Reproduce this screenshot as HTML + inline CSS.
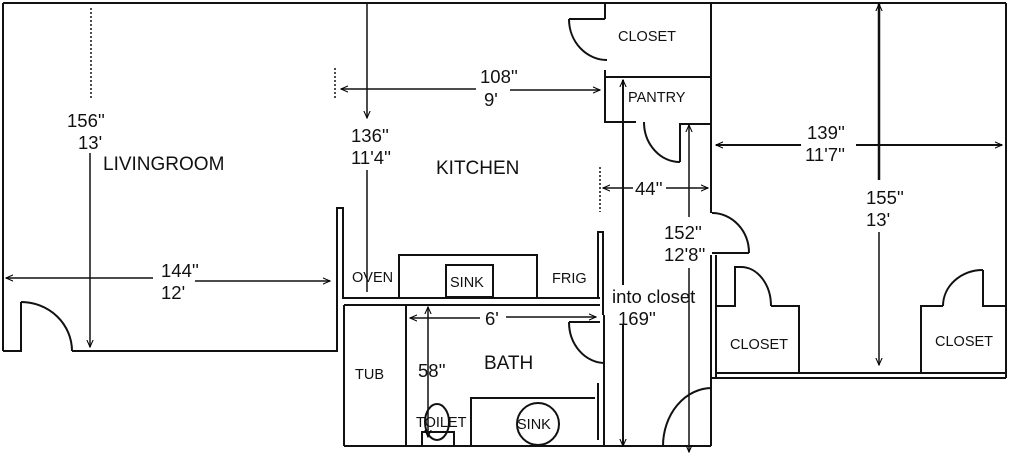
<!DOCTYPE html>
<html><head><meta charset="utf-8"><style>
html,body{margin:0;padding:0;background:#fff;}
svg{display:block;}
text{font-family:"Liberation Sans",Arial,sans-serif;fill:#111;}
.b{font-size:19px;}
.n{font-size:18.5px;}
.s{font-size:14.5px;}
</style></head><body>
<svg width="1024" height="459" viewBox="0 0 1024 459" xmlns="http://www.w3.org/2000/svg">
<defs>
<marker id="a" viewBox="0 0 10 10" refX="9" refY="5" markerWidth="8" markerHeight="8" orient="auto-start-reverse" markerUnits="userSpaceOnUse">
<path d="M0,1 L9,5 L0,9" fill="none" stroke="#000" stroke-width="1.3"/>
</marker>
</defs>
<g fill="none" stroke="#111" stroke-width="2">
<line x1="3" y1="3" x2="1006" y2="3"/>
<line x1="3" y1="3" x2="3" y2="351"/>
<polyline points="3,351 21,351 21,302"/>
<path d="M21,302 A51,49 0 0 1 72,351"/>
<polyline points="72,351 337,351 337,208 343,208 343,298 600,298"/>
<polyline points="344,305 600,305"/>
<line x1="344" y1="305" x2="344" y2="446"/>
<line x1="344" y1="446" x2="711" y2="446"/>
<line x1="406" y1="305" x2="406" y2="446"/>
<line x1="604" y1="315" x2="604" y2="446"/>
<line x1="598" y1="383" x2="598" y2="440"/>
<path d="M569,322 A36,41 0 0 0 605,363"/>
<line x1="569" y1="322" x2="600" y2="322"/>
<polyline points="471,446 471,398 595,398"/>
<circle cx="538" cy="424" r="21"/>
<ellipse cx="437" cy="422" rx="12" ry="18"/>
<rect x="422" y="432" width="32" height="14"/>
<polyline points="598,298 598,232 603,232 603,315"/>
<polyline points="399,298 399,255 537,255 537,298"/>
<rect x="446" y="265" width="47" height="32"/>
<line x1="605" y1="3" x2="605" y2="19"/>
<line x1="569" y1="19" x2="605" y2="19"/>
<path d="M569,19 A38,41 0 0 0 607,60"/>
<polyline points="605,70 605,122 636,122"/>
<line x1="605" y1="77" x2="711" y2="77"/>
<path d="M644,122 A36,40 0 0 0 680,162"/>
<polyline points="680,162 680,124 711,124"/>
<line x1="711" y1="3" x2="711" y2="213"/>
<path d="M712,213 A37,40 0 0 1 749,253"/>
<line x1="712" y1="253" x2="749" y2="253"/>
<line x1="711" y1="255" x2="711" y2="446"/>
<line x1="716" y1="255" x2="716" y2="378"/>
<path d="M663,446 A49,58 0 0 1 712,388"/>
<line x1="1006" y1="3" x2="1006" y2="378"/>
<line x1="716" y1="373" x2="1006" y2="373"/>
<line x1="712" y1="378" x2="1006" y2="378"/>
<polyline points="716,306 735,306 735,267 741,267"/>
<path d="M741,267 A30,39 0 0 1 771,306"/>
<polyline points="771,306 799,306 799,372"/>
<polyline points="921,372 921,306 943,306"/>
<path d="M943,306 A40,36 0 0 1 983,270"/>
<polyline points="983,270 983,306 1006,306"/>
</g>
<g fill="none" stroke="#111" stroke-width="1.5">
<line x1="91" y1="8" x2="91" y2="100" stroke-dasharray="2,2"/>
<line x1="335" y1="68" x2="335" y2="100" stroke-dasharray="2,2"/>
<line x1="600" y1="167" x2="600" y2="212" stroke-dasharray="2,2"/>
<line x1="90" y1="153" x2="90" y2="347" marker-end="url(#a)"/>
<line x1="153" y1="278" x2="6" y2="278" marker-end="url(#a)"/>
<line x1="195" y1="281" x2="330" y2="281" marker-end="url(#a)"/>
<line x1="367" y1="3" x2="367" y2="118" marker-end="url(#a)"/>
<line x1="367" y1="170" x2="367" y2="292"/>
<line x1="476" y1="89" x2="341" y2="89" marker-end="url(#a)"/>
<line x1="510" y1="90" x2="600" y2="90" marker-end="url(#a)"/>
<line x1="623" y1="285" x2="623" y2="80" marker-end="url(#a)" stroke-width="2"/>
<line x1="623" y1="325" x2="623" y2="446" marker-end="url(#a)" stroke-width="2"/>
<line x1="633" y1="188" x2="603" y2="188" marker-end="url(#a)"/>
<line x1="666" y1="188" x2="708" y2="188" marker-end="url(#a)"/>
<line x1="689" y1="217" x2="689" y2="125" marker-end="url(#a)"/>
<line x1="689" y1="268" x2="689" y2="452" marker-end="url(#a)"/>
<line x1="480" y1="318" x2="410" y2="318" marker-end="url(#a)"/>
<line x1="506" y1="317" x2="596" y2="317" marker-end="url(#a)"/>
<line x1="428" y1="307" x2="428" y2="437" marker-start="url(#a)" marker-end="url(#a)"/>
<line x1="801" y1="145" x2="716" y2="145" marker-end="url(#a)" stroke-width="2"/>
<line x1="856" y1="145" x2="1002" y2="145" marker-end="url(#a)" stroke-width="2"/>
<line x1="879" y1="180" x2="879" y2="4" marker-end="url(#a)" stroke-width="2.5"/>
<line x1="879" y1="232" x2="879" y2="365" marker-end="url(#a)"/>
</g>
<text class="n" x="67" y="127">156''</text>
<text class="n" x="78" y="149">13'</text>
<text class="b" x="103" y="170">LIVINGROOM</text>
<text class="n" x="161" y="277">144''</text>
<text class="n" x="161" y="299">12'</text>
<text class="n" x="480" y="83">108''</text>
<text class="n" x="484" y="106">9'</text>
<text class="n" x="351" y="142">136''</text>
<text class="n" x="351" y="164">11'4''</text>
<text class="b" x="436" y="174">KITCHEN</text>
<text class="s" x="618" y="41">CLOSET</text>
<text class="s" x="628" y="102">PANTRY</text>
<text class="n" x="635" y="195">44''</text>
<text class="n" x="664" y="239">152''</text>
<text class="n" x="664" y="261">12'8''</text>
<text class="n" x="612" y="303">into closet</text>
<text class="n" x="618" y="325">169''</text>
<text class="s" x="352" y="282">OVEN</text>
<text class="s" x="450" y="287">SINK</text>
<text class="s" x="552" y="283">FRIG</text>
<text class="n" x="485" y="325">6'</text>
<text class="s" x="355" y="379">TUB</text>
<text class="n" x="418" y="377">58''</text>
<text class="b" x="484" y="369">BATH</text>
<text class="s" x="416" y="427">TOILET</text>
<text class="s" x="517" y="429">SINK</text>
<text class="n" x="807" y="139">139''</text>
<text class="n" x="805" y="161">11'7''</text>
<text class="n" x="866" y="204">155''</text>
<text class="n" x="866" y="226">13'</text>
<text class="s" x="730" y="349">CLOSET</text>
<text class="s" x="935" y="346">CLOSET</text>
</svg>
</body></html>
